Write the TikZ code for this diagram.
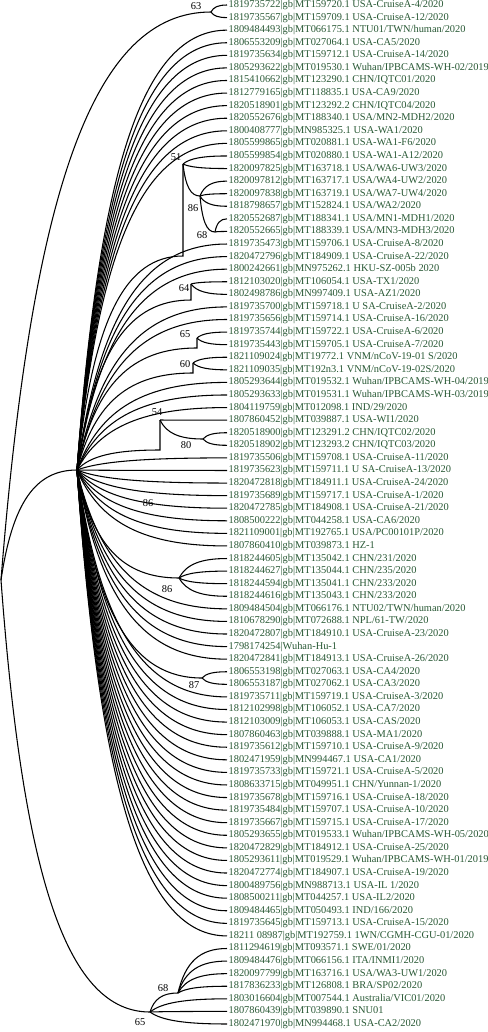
\documentclass[tikz,border=0pt]{standalone}
\usepackage{fontspec}
\setmainfont{Liberation Serif}
\usepackage{xcolor}
\usepackage{tikz}
\usetikzlibrary{calc}
\definecolor{leafgreen}{RGB}{40,88,52}

\begin{document}
\begin{tikzpicture}[
    x=0.75pt, y=-0.75pt,
    leaf/.style={anchor=west, inner sep=1pt, text=leafgreen, font=\fontsize{7.8}{9}\selectfont},
    boot/.style={inner sep=0pt, font=\fontsize{7.8}{9}\selectfont},
    branch/.style={to path={let \p1=(\tikztostart), \p2=(\tikztotarget) in
        .. controls ({\x1+0.15*(\x2-\x1)},{\y1+0.7*(\y2-\y1)}) and ({\x1+0.45*(\x2-\x1)},{\y2}) .. (\p2)}},
    edge/.style={line width=0.8pt}
]
\useasboundingbox (0,0) rectangle (487,1032);

% Leaves
\foreach \lab [count=\i] in {
    1819735722|gb|MT159720.1 USA-CruiseA-4/2020,
    1819735567|gb|MT159709.1 USA-CruiseA-12/2020,
    1809484493|gb|MT066175.1 NTU01/TWN/human/2020,
    1806553209|gb|MT027064.1 USA-CA5/2020,
    1819735634|gb|MT159712.1 USA-CruiseA-14/2020,
    1805293622|gb|MT019530.1 Wuhan/IPBCAMS-WH-02/2019,
    1815410662|gb|MT123290.1 CHN/IQTC01/2020,
    1812779165|gb|MT118835.1 USA-CA9/2020,
    1820518901|gb|MT123292.2 CHN/IQTC04/2020,
    1820552676|gb|MT188340.1 USA/MN2-MDH2/2020,
    1800408777|gb|MN985325.1 USA-WA1/2020,
    1805599865|gb|MT020881.1 USA-WA1-F6/2020,
    1805599854|gb|MT020880.1 USA-WA1-A12/2020,
    1820097825|gb|MT163718.1 USA/WA6-UW3/2020,
    1820097812|gb|MT163717.1 USA/WA4-UW2/2020,
    1820097838|gb|MT163719.1 USA/WA7-UW4/2020,
    1818798657|gb|MT152824.1 USA/WA2/2020,
    1820552687|gb|MT188341.1 USA/MN1-MDH1/2020,
    1820552665|gb|MT188339.1 USA/MN3-MDH3/2020,
    1819735473|gb|MT159706.1 USA-CruiseA-8/2020,
    1820472796|gb|MT184909.1 USA-CruiseA-22/2020,
    1800242661|gb|MN975262.1 HKU-SZ-005b 2020,
    1812103020|gb|MT106054.1 USA-TX1/2020,
    1802498786|gb|MN997409.1 USA-AZ1/2020,
    1819735700|gb|MT159718.1 U SA-CruiseA-2/2020,
    1819735656|gb|MT159714.1 USA-CruiseA-16/2020,
    1819735744|gb|MT159722.1 USA-CruiseA-6/2020,
    1819735443|gb|MT159705.1 USA-CruiseA-7/2020,
    1821109024|gb|MT19772.1 VNM/nCoV-19-01 S/2020,
    1821109035|gb|MT192n3.1 VNM/nCoV-19-02S/2020,
    1805293644|gb|MT019532.1 Wuhan/IPBCAMS-WH-04/2019,
    1805293633|gb|MT019531.1 Wuhan/IPBCAMS-WH-03/2019,
    1804119759|gb|MT012098.1 IND/29/2020,
    1807860452|gb|MT039887.1 USA-WI1/2020,
    1820518900|gb|MT123291.2 CHN/IQTC02/2020,
    1820518902|gb|MT123293.2 CHN/IQTC03/2020,
    1819735506|gb|MT159708.1 USA-CruiseA-11/2020,
    1819735623|gb|MT159711.1 U SA-CruiseA-13/2020,
    1820472818|gb|MT184911.1 USA-CruiseA-24/2020,
    1819735689|gb|MT159717.1 USA-CruiseA-1/2020,
    1820472785|gb|MT184908.1 USA-CruiseA-21/2020,
    1808500222|gb|MT044258.1 USA-CA6/2020,
    1821109001|gb|MT192765.1 USA/PC00101P/2020,
    1807860410|gb|MT039873.1 HZ-1,
    1818244605|gb|MT135042.1 CHN/231/2020,
    1818244627|gb|MT135044.1 CHN/235/2020,
    1818244594|gb|MT135041.1 CHN/233/2020,
    1818244616|gb|MT135043.1 CHN/233/2020,
    1809484504|gb|MT066176.1 NTU02/TWN/human/2020,
    1810678290|gb|MT072688.1 NPL/61-TW/2020,
    1820472807|gb|MT184910.1 USA-CruiseA-23/2020,
    1798174254|Wuhan-Hu-1,
    1820472841|gb|MT184913.1 USA-CruiseA-26/2020,
    1806553198|gb|MT027063.1 USA-CA4/2020,
    1806553187|gb|MT027062.1 USA-CA3/2020,
    1819735711|gb|MT159719.1 USA-CruiseA-3/2020,
    1812102998|gb|MT106052.1 USA-CA7/2020,
    1812103009|gb|MT106053.1 USA-CAS/2020,
    1807860463|gb|MT039888.1 USA-MA1/2020,
    1819735612|gb|MT159710.1 USA-CruiseA-9/2020,
    1802471959|gb|MN994467.1 USA-CA1/2020,
    1819735733|gb|MT159721.1 USA-CruiseA-5/2020,
    1808633715|gb|MT049951.1 CHN/Yunnan-1/2020,
    1819735678|gb|MT159716.1 USA-CruiseA-18/2020,
    1819735484|gb|MT159707.1 USA-CruiseA-10/2020,
    1819735667|gb|MT159715.1 USA-CruiseA-17/2020,
    1805293655|gb|MT019533.1 Wuhan/IPBCAMS-WH-05/2020,
    1820472829|gb|MT184912.1 USA-CruiseA-25/2020,
    1805293611|gb|MT019529.1 Wuhan/IPBCAMS-WH-01/2019,
    1820472774|gb|MT184907.1 USA-CruiseA-19/2020,
    1800489756|gb|MN988713.1 USA-IL 1/2020,
    1808500211|gb|MT044257.1 USA-IL2/2020,
    1809484465|gb|MT050493.1 IND/166/2020,
    1819735645|gb|MT159713.1 USA-CruiseA-15/2020,
    18211 08987|gb|MT192759.1 1WN/CGMH-CGU-01/2020,
    1811294619|gb|MT093571.1 SWE/01/2020,
    1809484476|gb|MT066156.1 ITA/INMI1/2020,
    1820097799|gb|MT163716.1 USA/WA3-UW1/2020,
    1817836233|gb|MT126808.1 BRA/SP02/2020,
    1803016604|gb|MT007544.1 Australia/VIC01/2020,
    1807860439|gb|MT039890.1 SNU01,
    1802471970|gb|MN994468.1 USA-CA2/2020}
  \node[leaf] (l\i) at (227,{5+12.58*(\i-1)}) {\lab};

% Internal nodes
\coordinate (root) at (1,580);
\coordinate (n63) at (211,12);
\coordinate (hub) at (77,470);
\coordinate (n51) at (183,164);
\coordinate (n51b) at (183,256);
\coordinate (n86a) at (200,196);
\coordinate (n68a) at (215,232);
\coordinate (n64) at (191,284);
\coordinate (n64b) at (191,300);
\coordinate (n65b) at (197,338);
\coordinate (n65bb) at (197,348);
\coordinate (n60) at (193,363);
\coordinate (n60b) at (193,373);
\coordinate (n54) at (160,420);
\coordinate (n54b) at (160,450);
\coordinate (n80) at (203,439);
\coordinate (n86b) at (179,578);
\coordinate (n87) at (202,678);
\coordinate (n65c) at (150,1012);
\coordinate (n68c) at (178,993);

% Branches
\draw[edge] (root) to[branch] (n63);
\draw[edge] (root) to[branch] (hub);
\draw[edge] (root) to[branch] (n65c);
\foreach \i in {1,2} \draw[edge] (n63) to[branch] (l\i.west);
\foreach \i in {3,...,12,20,21,22,25,26,31,32,33,37,38,...,44,49,50,...,53,56,57,...,75}
  \draw[edge] (hub) to[branch] (l\i.west);
\draw[edge] (hub) to[branch] (n51b) -- (n51);
\foreach \i in {13,14} \draw[edge] (n51) to[branch] (l\i.west);
\draw[edge] (n51) to[branch] (n86a);
\foreach \i in {15,16,17} \draw[edge] (n86a) to[branch] (l\i.west);
\draw[edge] (n86a) to[branch] (n68a);
\foreach \i in {18,19} \draw[edge] (n68a) to[branch] (l\i.west);
\draw[edge] (hub) to[branch] (n64b) -- (n64);
\foreach \i in {23,24} \draw[edge] (n64) to[branch] (l\i.west);
\draw[edge] (hub) to[branch] (n65bb) -- (n65b);
\foreach \i in {27,28} \draw[edge] (n65b) to[branch] (l\i.west);
\draw[edge] (hub) to[branch] (n60b) -- (n60);
\foreach \i in {29,30} \draw[edge] (n60) to[branch] (l\i.west);
\draw[edge] (hub) to[branch] (n54b) -- (n54);
\draw[edge] (n54) to[branch] (l34.west);
\draw[edge] (n54) to[branch] (n80);
\foreach \i in {35,36} \draw[edge] (n80) to[branch] (l\i.west);
\draw[edge] (hub) to[branch] (n86b);
\foreach \i in {45,...,48} \draw[edge] (n86b) to[branch] (l\i.west);
\draw[edge] (hub) to[branch] (n87);
\foreach \i in {54,55} \draw[edge] (n87) to[branch] (l\i.west);
\draw[edge] (n65c) to[branch] (n68c);
\foreach \i in {76,...,79} \draw[edge] (n68c) to[branch] (l\i.west);
\foreach \i in {80,81,82} \draw[edge] (n65c) to[branch] (l\i.west);

% Bootstrap values
\node[boot] (b63) at (196,6) {63};
\node[boot] (b51) at (176,157) {51};
\node[boot] (b86a) at (193,208) {86};
\node[boot] (b68a) at (202,235) {68};
\node[boot] (b64) at (184,288) {64};
\node[boot] (b65b) at (185,334) {65};
\node[boot] (b60) at (185,364) {60};
\node[boot] (b54) at (157,412) {54};
\node[boot] (b80) at (186,445) {80};
\node[boot] (b86m) at (148,503) {86};
\node[boot] (b86b) at (167,589) {86};
\node[boot] (b87) at (194,685) {87};
\node[boot] (b68c) at (163,988) {68};
\node[boot] (b65c) at (140,1022) {65};
\end{tikzpicture}
\end{document}
